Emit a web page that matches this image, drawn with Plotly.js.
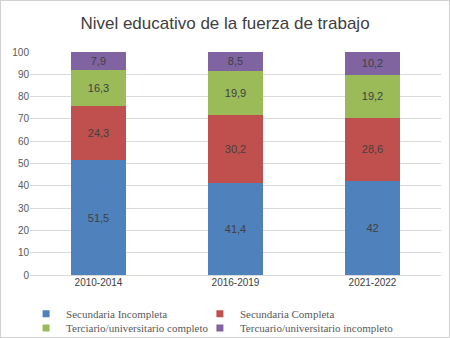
<!DOCTYPE html>
<html><head><meta charset="utf-8">
<script src="https://cdn.plot.ly/plotly-3.0.1.min.js"></script>
<style>
html,body{margin:0;padding:0;background:#fff;}
#wrap{width:450px;height:338px;box-sizing:border-box;border:1px solid #d0d0d0;overflow:hidden;}
#chart{width:448px;height:336px;}
</style></head>
<body><div id="wrap"><div id="chart"></div></div>
<script>
const categories = ["2010-2014", "2016-2019", "2021-2022"];
const seriesNames = ["Secundaria Incompleta", "Secundaria Completa", "Terciario/universitario completo", "Tercuario/universitario incompleto"];
const secIncompleta = [51.5, 41.4, 42];
const secCompleta = [24.3, 30.2, 28.6];
const tercCompleto = [16.3, 19.9, 19.2];
const tercIncompleto = [7.9, 8.5, 10.2];
const colors = ["#4f81bd", "#c0504d", "#9bbb59", "#8064a2"];
const yTicks = [0,10,20,30,40,50,60,70,80,90,100];

const allSeries = [secIncompleta, secCompleta, tercCompleto, tercIncompleto];
const traces = allSeries.map((vals, i) => ({
  type: 'bar',
  name: seriesNames[i],
  x: categories,
  y: vals,
  text: vals.map(v => String(v).replace('.', ',')),
  textposition: 'inside',
  insidetextanchor: 'middle',
  constraintext: 'none',
  textangle: 0,
  textfont: {family: 'Arial, Liberation Sans, sans-serif', size: 11, color: '#404040'},
  marker: {color: colors[i], line: {width: 0}},
  showlegend: false,
  hoverinfo: 'none'
}));
// legend entries as small square markers, one legend box per entry (2x2 grid)
const legendIds = ['legend', 'legend2', 'legend3', 'legend4'];
seriesNames.forEach((n, i) => traces.push({
  type: 'scatter', mode: 'markers', name: n, x: [null], y: [null],
  legend: legendIds[i],
  marker: {symbol: 'square', size: 7, color: colors[i]}, showlegend: true, hoverinfo: 'none'
}));

const legendFont = {family: 'Liberation Serif, DejaVu Serif, serif', size: 11, color: '#595959'};
const legendBase = {orientation: 'h', xref: 'container', yref: 'container', xanchor: 'left',
  yanchor: 'middle', bgcolor: 'rgba(0,0,0,0)', font: legendFont};
const colX = [0.056, 0.444];
const rowY = [0.069, 0.027];

const layout = {
  width: 448, height: 336,
  barmode: 'stack',
  bargap: 0.6,
  paper_bgcolor: '#fff', plot_bgcolor: '#fff',
  margin: {l: 29, r: 8, t: 51, b: 62},
  title: {text: 'Nivel educativo de la fuerza de trabajo', x: 0.5, xanchor: 'center', y: 0.935, yanchor: 'middle',
          font: {family: 'Arial, Liberation Sans, sans-serif', size: 17, color: '#404040'}},
  xaxis: {tickfont: {family: 'Arial, Liberation Sans, sans-serif', size: 10, color: '#404040'}, showline: false, ticks: ''},
  yaxis: {range: [0, 100], tickvals: yTicks, showgrid: true, gridcolor: '#d9d9d9', zeroline: true, zerolinecolor: '#d9d9d9',
          tickfont: {family: 'Arial, Liberation Sans, sans-serif', size: 10, color: '#595959'}, ticks: '', fixedrange: true},
  showlegend: true,
  font: {family: 'Arial, Liberation Sans, sans-serif'}
};
legendIds.forEach((id, i) => {
  layout[id] = Object.assign({}, legendBase, {x: colX[i % 2], y: rowY[Math.floor(i / 2)]});
});
Plotly.newPlot('chart', traces, layout, {displayModeBar: false, staticPlot: true});
</script></body></html>
